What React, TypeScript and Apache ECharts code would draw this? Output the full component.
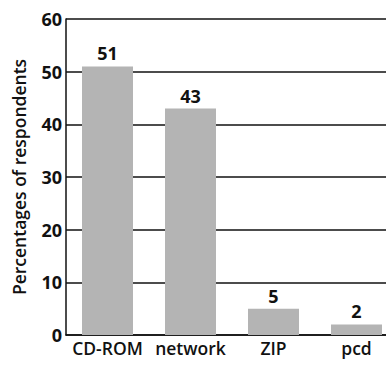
import React, { useEffect, useRef } from "react";
import * as echarts from "echarts";

const categories = ["CD-ROM", "network", "ZIP", "pcd"];
const percentages = [51, 43, 5, 2];
const yTicks = [0, 10, 20, 30, 40, 50, 60];

export default function App() {
  const ref = useRef<HTMLDivElement>(null);

  useEffect(() => {
    document.body.style.margin = "0";
    if (!ref.current) return;
    const chart = echarts.init(ref.current, null, { renderer: "svg" });
    const font = "'Open Sans', 'DejaVu Sans', sans-serif";
    chart.setOption({
      animation: false,
      backgroundColor: "#ffffff",
      // plot area runs past the right edge, so the rules are cut off there
      grid: {
        left: 66,
        top: 19,
        right: -12,
        bottom: 30,
        containLabel: false,
        outerBoundsMode: "none",
      },
      xAxis: {
        type: "category",
        data: categories,
        axisLine: { show: true, lineStyle: { color: "#111", width: 1.5 } },
        axisTick: { show: false },
        axisLabel: {
          color: "#111",
          fontFamily: font,
          fontWeight: 600,
          fontSize: 17.5,
          margin: 4,
          interval: 0,
        },
      },
      yAxis: {
        type: "value",
        min: yTicks[0],
        max: yTicks[yTicks.length - 1],
        interval: 10,
        name: "Percentages of respondents",
        nameLocation: "middle",
        nameGap: 38,
        nameTextStyle: {
          color: "#111",
          fontFamily: font,
          fontWeight: 600,
          fontSize: 17.5,
        },
        axisLine: { show: true, lineStyle: { color: "#111", width: 1.5 } },
        axisTick: { show: false },
        axisLabel: {
          color: "#111",
          fontFamily: font,
          fontWeight: 700,
          fontSize: 18,
          margin: 4,
        },
        splitLine: { show: true, lineStyle: { color: "#111", width: 1.5 } },
      },
      series: [
        {
          type: "bar",
          data: percentages,
          barWidth: 51,
          itemStyle: { color: "#b4b4b4" },
          label: {
            show: true,
            position: "top",
            distance: 4,
            color: "#111",
            fontFamily: font,
            fontWeight: 700,
            fontSize: 18,
          },
        },
      ],
    });
    return () => chart.dispose();
  }, []);

  return <div ref={ref} style={{ width: 386, height: 365 }} />;
}
